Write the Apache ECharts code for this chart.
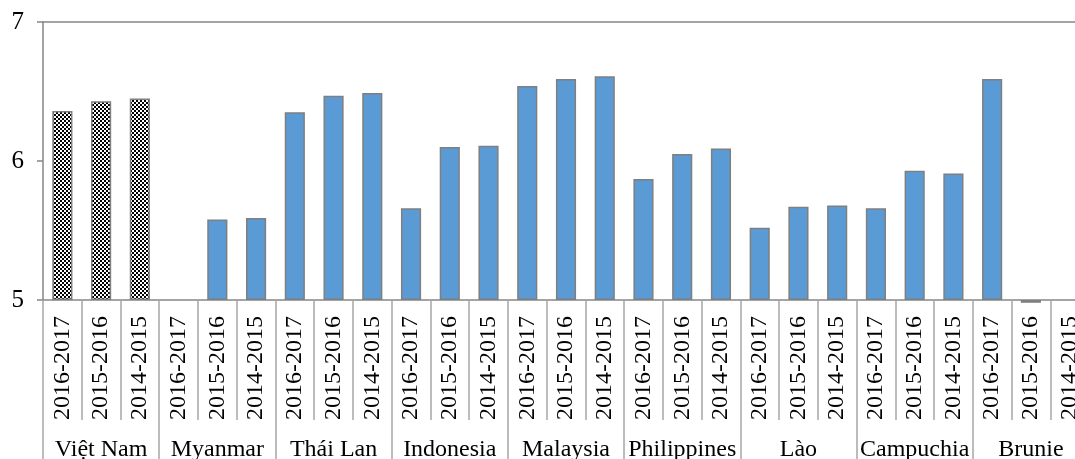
<!DOCTYPE html>
<html>
<head>
<meta charset="utf-8">
<script src="https://cdn.jsdelivr.net/npm/echarts@6/dist/echarts.min.js"></script>
<style>
html,body{margin:0;padding:0;background:#fff;}
#chart{width:1075px;height:459px;}
</style>
</head>
<body>
<div id="chart"></div>
<script>
const countries = ['Việt Nam','Myanmar','Thái Lan','Indonesia','Malaysia','Philippines','Lào','Campuchia','Brunie'];
const periods = ['2016-2017','2015-2016','2014-2015'];
const vietNam     = [6.36, 6.43, 6.45];
const myanmar     = [null, 5.58, 5.59];
const thaiLan     = [6.35, 6.47, 6.49];
const indonesia   = [5.66, 6.10, 6.11];
const malaysia    = [6.54, 6.59, 6.61];
const philippines = [5.87, 6.05, 6.09];
const lao         = [5.52, 5.67, 5.68];
const campuchia   = [5.66, 5.93, 5.91];
const brunie      = [6.59, 4.98, null];
const yTicks = [5, 6, 7];

const groups = [vietNam, myanmar, thaiLan, indonesia, malaysia, philippines, lao, campuchia, brunie];

// checker pattern for Việt Nam
const pat = document.createElement('canvas');
pat.width = 4; pat.height = 4;
const pc = pat.getContext('2d');
pc.fillStyle = '#ffffff'; pc.fillRect(0,0,4,4);
pc.fillStyle = '#000000'; pc.fillRect(0,0,2,2); pc.fillRect(2,2,2,2);

const catLabels = [];
const barData = [];
groups.forEach((g, gi) => {
  g.forEach((v, i) => {
    catLabels.push(periods[i]);
    if (v === null) { barData.push('-'); return; }
    if (gi === 0) {
      barData.push({ value: v, itemStyle: { color: { image: pat, repeat: 'repeat' } } });
    } else {
      barData.push(v);
    }
  });
});

const font = 'Liberation Serif';
const gray = '#868686';

const chart = echarts.init(document.getElementById('chart'));
chart.setOption({
  animation: false,
  backgroundColor: '#ffffff',
  grid: { left: 43, right: -14, top: 22, bottom: 159, containLabel: false, outerBoundsMode: 'none' },
  xAxis: [
    {
      type: 'category', data: catLabels, position: 'bottom', gridIndex: 0,
      axisLine: { onZero: false, lineStyle: { color: gray, width: 1.5 } },
      axisTick: { show: true, interval: 0, alignWithLabel: false, length: 120, lineStyle: { color: '#a6a6a6', width: 1.5 } },
      axisLabel: { interval: 0, rotate: 90, margin: 16, fontSize: 24, fontFamily: font, color: '#000' },
      splitLine: { show: false }
    },
    {
      type: 'category', data: countries, position: 'bottom', gridIndex: 0,
      axisLine: { show: false, onZero: false },
      axisTick: { show: true, interval: 0, alignWithLabel: false, length: 170, lineStyle: { color: '#a6a6a6', width: 1.5 } },
      axisLabel: { interval: 0, margin: 138, fontSize: 24, fontFamily: font, color: '#000' },
      splitLine: { show: false }
    },
    {
      type: 'category', data: catLabels, position: 'top', gridIndex: 0,
      axisLine: { onZero: false, lineStyle: { color: gray, width: 1.5 } },
      axisTick: { show: false }, axisLabel: { show: false }, splitLine: { show: false }
    }
  ],
  yAxis: {
    type: 'value', min: yTicks[0], max: yTicks[yTicks.length - 1], interval: 1, startValue: yTicks[0],
    axisLine: { show: true, lineStyle: { color: gray, width: 1.5 } },
    axisTick: { show: true, length: 6, inside: false, lineStyle: { color: gray, width: 1.5 } },
    axisLabel: { margin: 19, fontSize: 25, fontFamily: font, color: '#000' },
    splitLine: { show: false }
  },
  series: [{
    type: 'bar', xAxisIndex: 0, yAxisIndex: 0,
    data: barData, barWidth: '52%', clip: false,
    itemStyle: { color: '#5b9bd5', borderColor: '#7f7f7f', borderWidth: 1.5 }
  }]
});
</script>
</body>
</html>
